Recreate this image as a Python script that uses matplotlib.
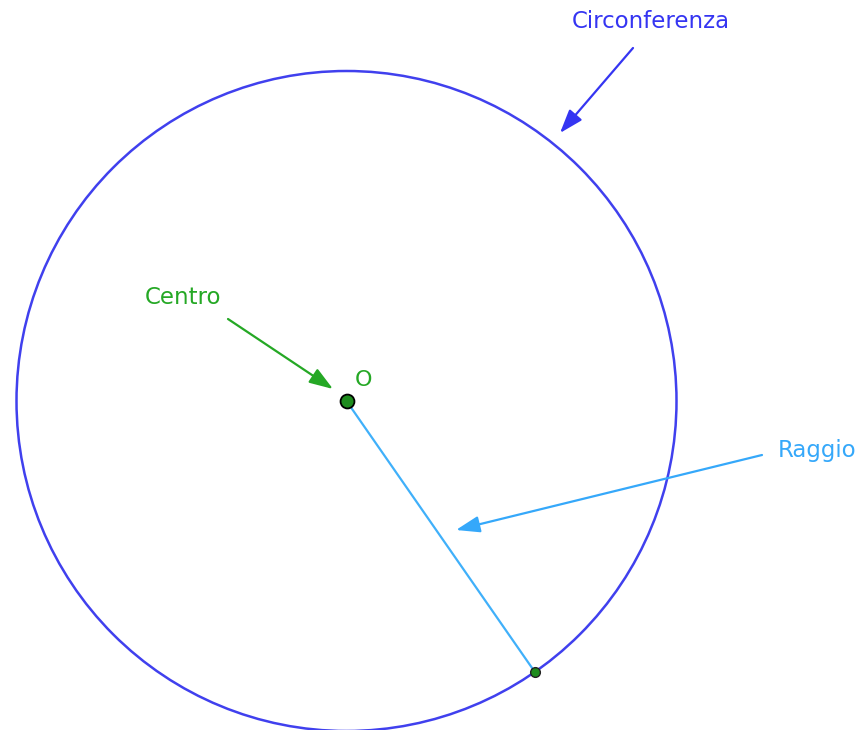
import matplotlib
matplotlib.use('Agg')
import matplotlib.pyplot as plt
from matplotlib.patches import Circle

# geometry in pixel coordinates of the picture
center = (346.5, 401.0)
radius = 330.0
radius_end = (534.5, 671.5)

labels = ['Circonferenza', 'Centro', 'Raggio']
label_pos = [(651, 21), (183, 298), (817, 451)]
arrow_tail = [(633, 48), (228, 319), (762, 455)]
arrow_tip = [(560, 133), (333, 389), (456, 530)]
colors = ['#3535f2', '#25a825', '#35a8fa']

fig = plt.figure(figsize=(8.58, 7.30), dpi=100)
ax = fig.add_axes([0, 0, 1, 1])
ax.set_xlim(0, 858)
ax.set_ylim(730, 0)
ax.set_aspect('equal')
ax.axis('off')

ax.add_patch(Circle(center, radius, fill=False, edgecolor='#4040ee', lw=1.8))

# radius segment
ax.plot([center[0], radius_end[0]], [center[1], radius_end[1]], color='#40b0fa', lw=1.6)

ax.plot(*center, 'o', ms=10, mfc='#1e8c1e', mec='black', mew=1.3, zorder=5)
ax.plot(*radius_end, 'o', ms=7, mfc='#1e8c1e', mec='#222222', mew=1.0, zorder=5)

ax.text(355, 380, 'O', color='#25a825', fontsize=16, ha='left', va='center')

for lab, pos, tail, tip, c in zip(labels, label_pos, arrow_tail, arrow_tip, colors):
    ax.text(pos[0], pos[1], lab, color=c, fontsize=16.5, ha='center', va='center')
    ax.annotate('', xy=tip, xytext=tail,
                arrowprops=dict(arrowstyle='-|>,head_length=0.72,head_width=0.25',
                                color=c, lw=1.6,
                                mutation_scale=20, shrinkA=0, shrinkB=0))

fig.savefig('out.png', dpi=100)
